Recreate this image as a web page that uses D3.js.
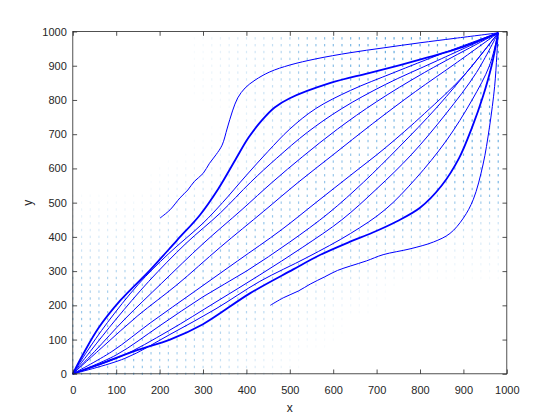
<!DOCTYPE html>
<html>
<head>
<meta charset="utf-8">
<script src="https://cdn.jsdelivr.net/npm/d3@7"></script>
<style>
  body { margin: 0; background: #fff; }
  text { font-family: "Liberation Sans", Arial, sans-serif; fill: #262626; }
</style>
</head>
<body>
<script>
// tick labels
var xTicks = [0, 100, 200, 300, 400, 500, 600, 700, 800, 900, 1000];
var yTicks = [0, 100, 200, 300, 400, 500, 600, 700, 800, 900, 1000];

// quiver density read per 100x100 block, rows top (y 900-1000) to bottom (y 0-100)
var quiverShade = [
  "1112356778",
  "1112356677",
  "1111356667",
  "1112355566",
  "1123455556",
  "2234555543",
  "3345544322",
  "4555432111",
  "5554321111",
  "5543211111"
];

// streamlines starting off the source
var lineStartUp = [[201,455],[224,479],[247,514],[265,537],[280,562],[300,585],[315,615],[330,640],[344,668],[356,718],[368,768],[380,806],[397,835],[420,858],[454,882],[500,902],[560,920],[639,938],[715,952],[800,967],[880,980],[980,996]];
var lineStartDown = [[455,200],[485,222],[520,242],[547,262],[580,283],[610,302],[640,315],[677,330],[715,348],[777,365],[831,385],[869,410],[900,455],[923,510],[945,610],[960,720],[972,840],[977,930],[980,996]];

// streamlines from the source at the origin, above the diagonal
var linesUp = [
  [[0,0],[25,60],[60,135],[110,215],[178,303],[240,390],[293,464],[335,540],[374,624],[405,690],[436,741],[465,778],[500,805],[592,849],[680,878],[754,902],[820,925],[892,952],[980,996]],
  [[0,0],[30,60],[80,150],[150,260],[220,350],[300,440],[345,500],[400,580],[450,650],[500,715],[560,775],[640,828],[740,880],[850,935],[980,996]],
  [[0,0],[40,65],[100,160],[175,270],[260,380],[340,470],[410,560],[470,630],[540,705],[620,775],[720,845],[840,915],[980,996]],
  [[0,0],[50,65],[120,160],[205,265],[300,380],[390,480],[460,560],[530,635],[610,715],[700,795],[810,880],[980,996]],
  [[0,0],[70,80],[150,170],[240,260],[340,370],[440,475],[520,560],[600,640],[690,730],[790,825],[880,905],[980,996]]
];
// below the diagonal
var linesDown = [
  [[0,0],[65,30],[150,70],[224,100],[300,145],[408,235],[508,305],[566,345],[639,386],[690,412],[746,445],[800,485],[850,550],[890,630],[920,720],[945,810],[965,900],[980,996]],
  [[0,0],[120,45],[224,115],[330,190],[431,270],[540,340],[640,410],[720,480],[790,570],[860,680],[920,800],[960,900],[980,996]],
  [[0,0],[110,50],[220,125],[330,210],[431,289],[530,370],[620,450],[700,540],[780,640],[860,760],[930,880],[980,996]],
  [[0,0],[100,55],[200,140],[300,225],[400,300],[500,385],[590,470],[670,560],[750,660],[840,780],[920,900],[980,996]],
  [[0,0],[90,65],[180,150],[280,240],[380,330],[480,420],[560,500],[640,580],[720,660],[810,760],[900,870],[980,996]]
];
var thickUp = 0, thickDown = 0;

var W = 560, H = 420;
var margin = { left: 72.8, top: 31.5, width: 434, height: 342.3 };

var svg = d3.select("body").append("svg")
  .attr("width", W)
  .attr("height", H);

var g = svg.append("g")
  .attr("transform", `translate(${margin.left}, ${margin.top})`);

var xscale = d3.scaleLinear().domain([0, 1000]).range([0, margin.width]);
var yscale = d3.scaleLinear().domain([0, 1000]).range([margin.height, 0]);

// shade at a grid point, blended between the block centres
function shadeAt(x, y) {
  var cx = Math.max(0, Math.min(8.999, (x - 50) / 100));
  var cy = Math.max(0, Math.min(8.999, (950 - y) / 100));
  var c0 = Math.floor(cx), r0 = Math.floor(cy);
  var fx = cx - c0, fy = cy - r0;
  var v = (r, c) => +quiverShade[r][c];
  var top = v(r0, c0) * (1 - fx) + v(r0, c0 + 1) * fx;
  var bot = v(r0 + 1, c0) * (1 - fx) + v(r0 + 1, c0 + 1) * fx;
  return top * (1 - fy) + bot * fy;
}

// quiver field: tiny arrows on a 20-unit grid
var grid = d3.range(0, 1000, 20);
var pts = [];
grid.forEach(function(gx) {
  grid.forEach(function(gy) {
    pts.push({ x: gx, y: gy, s: shadeAt(gx, gy) });
  });
});
var shade = d3.scaleLinear().domain([1, 8]).range([0.0, 0.85]).clamp(true);
g.append("g").selectAll("rect")
  .data(pts.filter(d => d.s > 1.2))
  .enter()
  .append("rect")
  .attr("x", d => xscale(d.x) - 0.5)
  .attr("y", d => yscale(d.y) - 1.2)
  .attr("width", 1.2)
  .attr("height", 2.4)
  .attr("fill", "#2488d2")
  .attr("opacity", d => shade(d.s));

var line = d3.line()
  .x(d => xscale(d[0]))
  .y(d => yscale(d[1]))
  .curve(d3.curveCatmullRom.alpha(0.5));

var all = linesUp.map((l, i) => ({ pts: l, w: i === thickUp ? 1.8 : 1 }))
  .concat(linesDown.map((l, i) => ({ pts: l, w: i === thickDown ? 1.8 : 1 })))
  .concat([{ pts: lineStartUp, w: 1 }, { pts: lineStartDown, w: 1 }]);

g.append("g").selectAll("path")
  .data(all)
  .enter()
  .append("path")
  .attr("d", d => line(d.pts))
  .attr("fill", "none")
  .attr("stroke", "#0000ff")
  .attr("stroke-width", d => d.w);

// axes box with inward ticks on all sides
var axisColor = "#262626";
var tl = 4.3;
g.append("rect")
  .attr("width", margin.width)
  .attr("height", margin.height)
  .attr("fill", "none")
  .attr("stroke", axisColor)
  .attr("stroke-width", 0.8);

var bottomAxis = d3.axisBottom(xscale).tickValues(xTicks).tickSize(-tl).tickPadding(12).tickFormat(d3.format("d"));
var topAxis = d3.axisTop(xscale).tickValues(xTicks).tickSize(-tl).tickFormat("");
var leftAxis = d3.axisLeft(yscale).tickValues(yTicks).tickSize(-tl).tickPadding(6).tickFormat(d3.format("d"));
var rightAxis = d3.axisRight(yscale).tickValues(yTicks).tickSize(-tl).tickFormat("");

function styleAxis(sel) {
  sel.select(".domain").remove();
  sel.selectAll("line").attr("stroke", axisColor).attr("stroke-width", 0.8);
  sel.selectAll("text").style("font-size", "11px").attr("fill", axisColor);
}
g.append("g").attr("transform", `translate(0, ${margin.height})`).call(bottomAxis).call(styleAxis);
g.append("g").call(topAxis).call(styleAxis);
g.append("g").call(leftAxis).call(styleAxis);
g.append("g").attr("transform", `translate(${margin.width}, 0)`).call(rightAxis).call(styleAxis);

g.append("text")
  .attr("x", margin.width / 2)
  .attr("y", margin.height + 38)
  .style("text-anchor", "middle")
  .style("font-size", "12px")
  .text("x");

g.append("text")
  .attr("transform", "rotate(-90)")
  .attr("x", -margin.height / 2)
  .attr("y", -41)
  .style("text-anchor", "middle")
  .style("font-size", "12px")
  .text("y");
</script>
</body>
</html>
